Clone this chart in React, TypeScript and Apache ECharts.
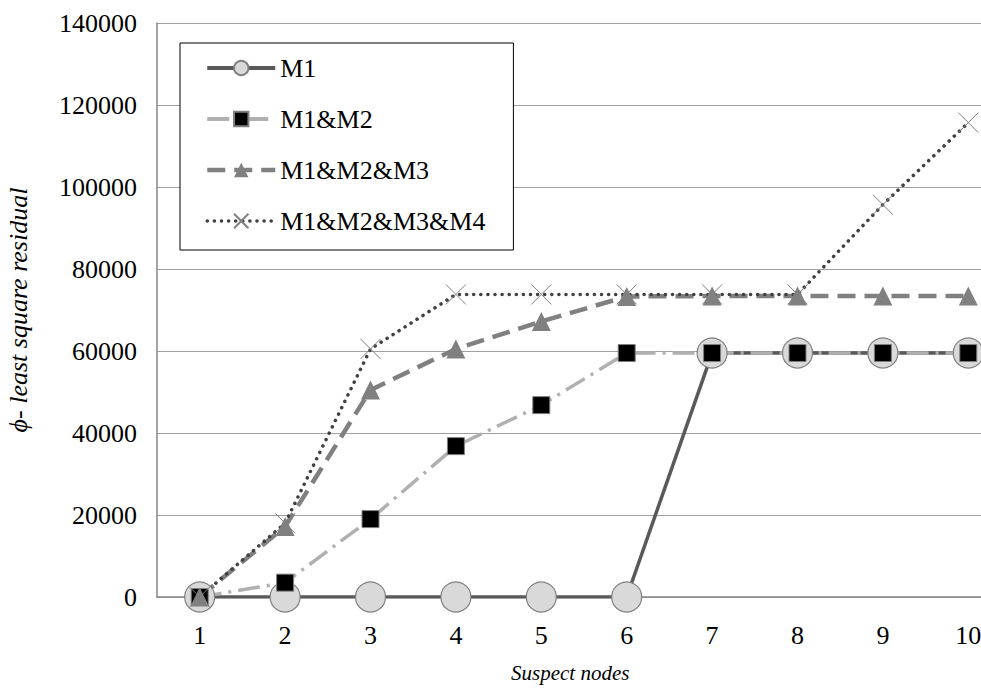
import React, { useEffect, useRef } from "react";
import * as echarts from "echarts";

const categories = ["1", "2", "3", "4", "5", "6", "7", "8", "9", "10"];
const m1 = [0, 0, 0, 0, 0, 0, 59500, 59500, 59500, 59500];
const m1m2 = [0, 3500, 19000, 36800, 46800, 59500, 59500, 59500, 59500, 59500];
const m1m2m3 = [0, 17200, 50500, 60500, 67200, 73300, 73400, 73400, 73400, 73400];
const m1m2m3m4 = [0, 18000, 60500, 73800, 73800, 73800, 73800, 73800, 95700, 115700];
const seriesNames = ["M1", "M1&M2", "M1&M2&M3", "M1&M2&M3&M4"];

const SERIF = "Liberation Serif";

export default function App() {
  const ref = useRef<HTMLDivElement>(null);
  useEffect(() => {
    if (!ref.current) return;
    const chart = echarts.init(ref.current, undefined, { renderer: "svg" });
    chart.setOption({
      animation: false,
      backgroundColor: "#ffffff",
      textStyle: { fontFamily: SERIF },
      grid: {
        left: 157,
        top: 23,
        bottom: 91,
        right: 0,
        containLabel: false,
        outerBoundsMode: "none",
      },
      xAxis: {
        type: "category",
        data: categories,
        boundaryGap: true,
        axisLine: { lineStyle: { color: "#868686", width: 1.5 } },
        axisTick: { show: false },
        axisLabel: { color: "#000", fontFamily: SERIF, fontSize: 26, margin: 25 },
      },
      yAxis: {
        type: "value",
        min: 0,
        max: 140000,
        interval: 20000,
        name: "\u03d5- least square residual",
        nameLocation: "middle",
        nameGap: 126,
        nameTextStyle: { color: "#000", fontFamily: SERIF, fontSize: 26, fontStyle: "italic" },
        axisLine: { show: true, lineStyle: { color: "#868686", width: 1.5 } },
        axisTick: { show: false },
        splitLine: { lineStyle: { color: "#a0a0a0", width: 1.2 } },
        axisLabel: {
          color: "#000",
          fontFamily: SERIF,
          fontSize: 26,
          margin: 20,
          formatter: (v: number) => String(v),
        },
      },
      legend: {
        orient: "vertical",
        left: 180,
        top: 43,
        backgroundColor: "#fff",
        borderColor: "#000",
        borderWidth: 1,
        padding: [12, 28, 16, 25],
        itemWidth: 68,
        itemHeight: 18,
        itemGap: 25,
        textStyle: { color: "#000", fontFamily: SERIF, fontSize: 26 },
        data: [
          { name: seriesNames[0], lineStyle: { width: 4 } },
          { name: seriesNames[1], lineStyle: { width: 4 } },
          { name: seriesNames[2], lineStyle: { width: 4.5 } },
          { name: seriesNames[3], lineStyle: { width: 3.5 } },
        ],
      },
      graphic: [
        {
          type: "text",
          left: 511,
          top: 662,
          style: {
            text: "Suspect nodes",
            fill: "#000",
            fontFamily: SERIF,
            fontSize: 21,
            fontStyle: "italic",
          },
        },
      ],
      series: [
        {
          name: seriesNames[0],
          type: "line",
          data: m1,
          symbol: "circle",
          symbolSize: 30,
          lineStyle: { color: "#595959", width: 3.5 },
          itemStyle: { color: "#d9d9d9", borderColor: "#808080", borderWidth: 1.2 },
        },
        {
          name: seriesNames[1],
          type: "line",
          data: m1m2,
          symbol: "rect",
          symbolSize: 17,
          lineStyle: { color: "#b0b0b0", width: 3.5, type: [22, 7, 3, 7] },
          itemStyle: { color: "#000", borderColor: "#808080", borderWidth: 1 },
        },
        {
          name: seriesNames[2],
          type: "line",
          data: m1m2m3,
          symbol: "triangle",
          symbolSize: 19,
          lineStyle: { color: "#808080", width: 4.5, type: [18, 9] },
          itemStyle: { color: "#808080" },
        },
        {
          name: seriesNames[3],
          type: "line",
          data: m1m2m3m4,
          symbol: "path://M0,0L20,20M20,0L0,20",
          symbolSize: 20,
          lineStyle: { color: "#404040", width: 3.5, type: [0.1, 7], cap: "round" },
          itemStyle: { color: "none", borderColor: "#808080", borderWidth: 1 },
        },
      ],
    });
    return () => chart.dispose();
  }, []);
  return (
    <div
      style={{
        position: "fixed",
        left: 0,
        top: 0,
        width: 981,
        height: 688,
        overflow: "hidden",
        background: "#fff",
      }}
    >
      <div ref={ref} style={{ width: 1011, height: 688 }} />
    </div>
  );
}
